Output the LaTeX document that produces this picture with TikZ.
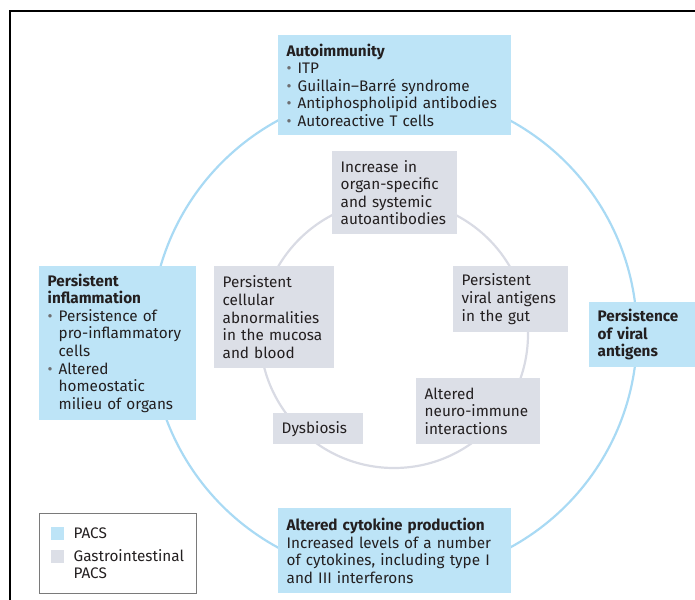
\documentclass[tikz,border=0pt]{standalone}
\usepackage{fontspec}
\setmainfont{Fira Sans}
\definecolor{pacs}{HTML}{BDE4F7}
\definecolor{gipacs}{HTML}{DCDFE7}
\definecolor{ring}{HTML}{A9DAF4}
\definecolor{gutring}{HTML}{D9DBE4}
\definecolor{ink}{HTML}{231F20}
\definecolor{dotgray}{HTML}{6D6E71}
\definecolor{keyline}{HTML}{7A7A7A}
\newcommand{\bul}{\makebox[11pt][l]{\textcolor{dotgray}{\textbullet}}}
\newcommand{\ind}{\hspace*{11pt}}

\begin{document}
\begin{tikzpicture}[x=1pt,y=-1pt,
      box/.style={anchor=north west,align=left,inner xsep=8.5pt,inner ysep=0pt,
        text=ink,font=\fontsize{15.3}{17.6}\selectfont},
      pacsbox/.style={box,fill=pacs},
      gibox/.style={box,fill=gipacs}]

      \useasboundingbox (0,0) rectangle (695,599);
      \clip (0,0) rectangle (695,599);
      \draw[line width=2pt] (10,620) |- (720,11);

      \coordinate (c) at (394,334);
      \draw[ring,line width=2.2pt] (c) circle[radius=243];
      \draw[gutring,line width=2.2pt] (c) circle[radius=134];

      \node[pacsbox,text width=216pt,minimum height=100pt] (auto) at (278,35)
        {\textbf{Autoimmunity}\\ \bul ITP\\ \bul Guillain–Barré syndrome\\
         \bul Antiphospholipid antibodies\\ \bul Autoreactive T cells};
      \node[pacsbox,text width=140pt,minimum height=154pt] (inflam) at (39,266)
        {\textbf{Persistent}\\ \textbf{inflammation}\\ \bul Persistence of\\
         \ind pro-inflammatory\\ \ind cells\\ \bul Altered\\ \ind homeostatic\\
         \ind milieu of organs};
      \node[pacsbox,text width=104pt,minimum height=65pt] (viral) at (589,302)
        {\textbf{Persistence}\\ \textbf{of viral}\\ \textbf{antigens}};
      \node[pacsbox,text width=216pt,minimum height=85pt] (cyto) at (278,508)
        {\textbf{Altered cytokine production}\\ Increased levels of a number\\
         of cytokines, including type I\\ and III interferons};

      \node[gibox,text width=108pt,minimum height=83pt] (incr) at (332,151)
        {Increase in\\ organ-specific\\ and systemic\\ autoantibodies};
      \node[gibox,text width=103pt,minimum height=102pt] (cell) at (214,266)
        {Persistent\\ cellular\\ abnormalities\\ in the mucosa\\ and blood};
      \node[gibox,text width=98pt,minimum height=66pt] (gut) at (453,266)
        {Persistent\\ viral antigens\\ in the gut};
      \node[gibox,text width=107pt,minimum height=66pt] (neuro) at (416,378)
        {Altered\\ neuro-immune\\ interactions};
      \node[gibox,text width=73pt,minimum height=31pt] (dys) at (273,413)
        {Dysbiosis};

      \node[draw=keyline,line width=1pt,anchor=north west,minimum width=157pt,
        minimum height=80pt,inner sep=0pt] (key) at (39,513) {};
      \node[fill=pacs,anchor=north west,minimum size=13pt,inner sep=0pt] (keyA) at (51,527) {};
      \node[fill=gipacs,anchor=north west,minimum size=13pt,inner sep=0pt] (keyB) at (51,550) {};
      \node[box,anchor=west,inner xsep=0pt] (keyAtxt) at ([xshift=9pt]keyA.east) {PACS};
      \node[box,anchor=north west,inner xsep=0pt] (keyBtxt) at ([xshift=9pt,yshift=1pt]keyB.north east)
        {Gastrointestinal\\ PACS};
\end{tikzpicture}
\end{document}
